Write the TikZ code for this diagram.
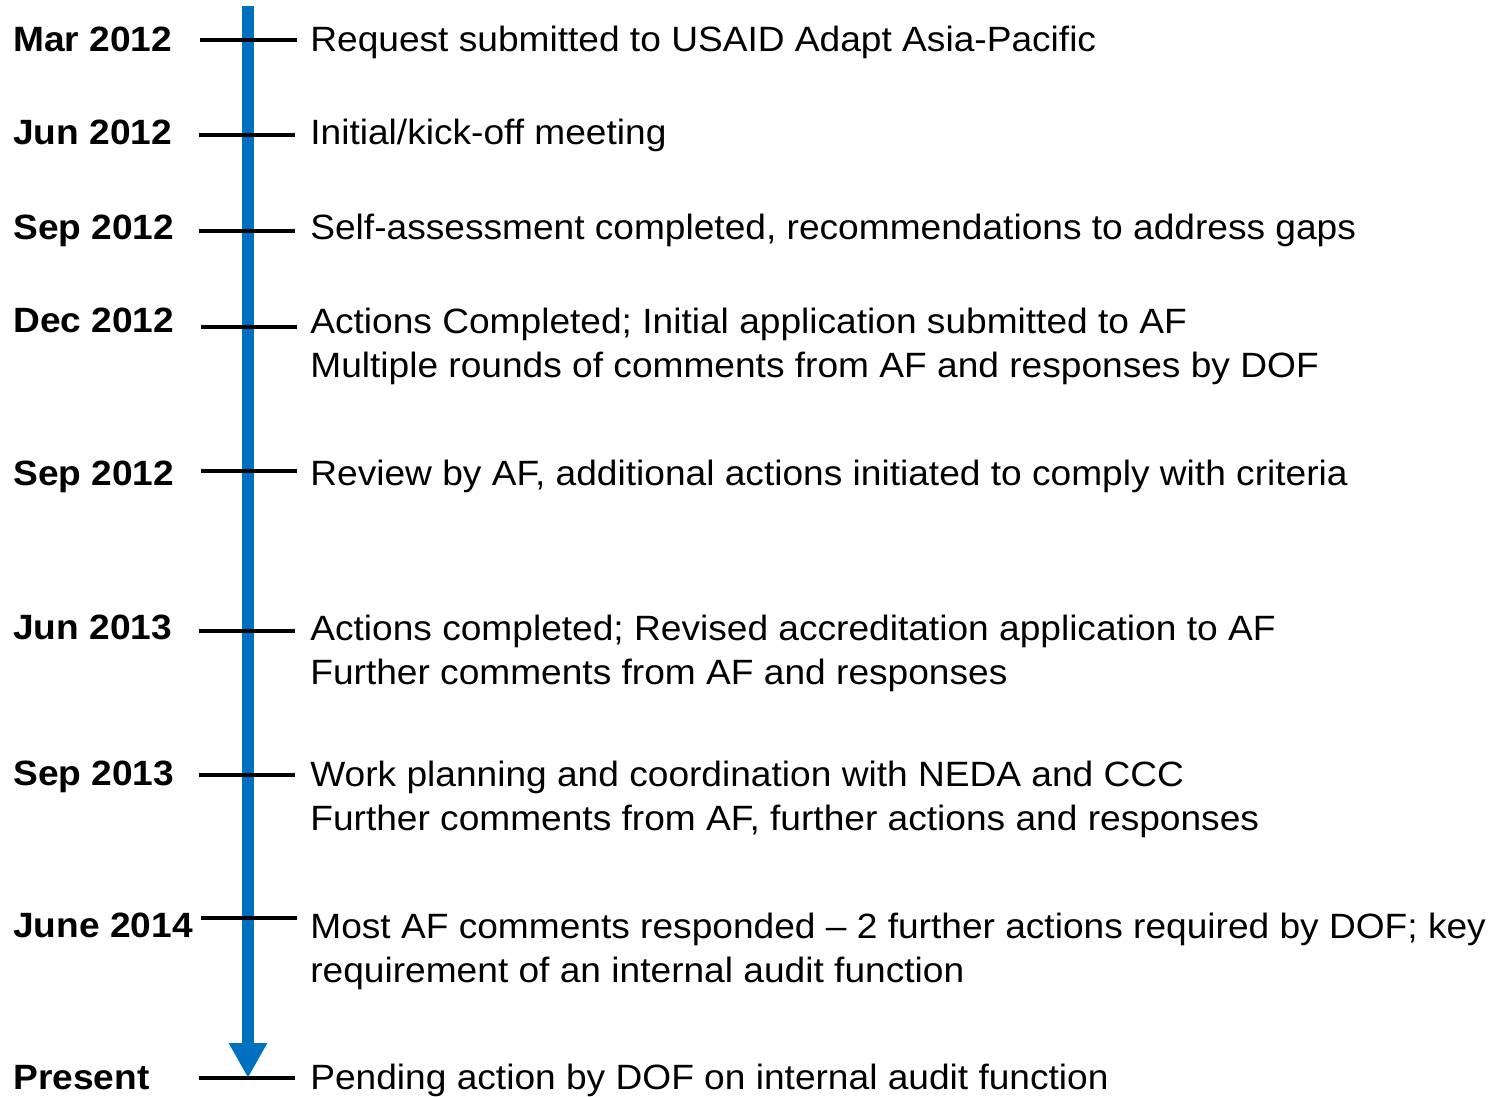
\documentclass[tikz,border=0pt]{standalone}
\usepackage{fontspec}
\setmainfont{Liberation Sans}[FakeStretch=1.056]
\usetikzlibrary{arrows.meta}
\definecolor{zeitblau}{RGB}{0,112,192}
\begin{document}
\begin{tikzpicture}[x=0.02cm, y=-0.02cm]
		\tikzset{datum/.style={anchor=base west, inner sep=0, font=\fontsize{20}{25.6}\selectfont\bfseries},
		ereignis/.style={anchor=base west, inner sep=0, align=left, font=\fontsize{20}{25.6}\selectfont},
		strich/.style={line width=2.3pt, draw=black}}
		\useasboundingbox (0,0) rectangle (1492,1097);

		% timeline
		\coordinate (top) at (248, 6);
		\coordinate (bottom) at (248, 1078);
		\draw[line width=6.8pt, draw=zeitblau, -{Triangle[width=0.72cm, length=0.7cm]}] (top) -- (bottom);

        \node[datum] at (13, 52) (d1) {Mar 2012};
        \node[datum] at (13, 145) (d2) {Jun 2012};
        \node[datum] at (13, 240) (d3) {Sep 2012};
        \node[datum] at (13, 333) (d4) {Dec 2012};
        \node[datum] at (13, 486) (d5) {Sep 2012};
        \node[datum] at (13, 640) (d6) {Jun 2013};
        \node[datum] at (13, 786) (d7) {Sep 2013};
        \node[datum] at (13, 938) (d8) {June 2014};
        \node[datum] at (13, 1090) (d9) {Present};

		% events (base = baseline of last line)
        \node[ereignis] at (310, 52) (e1) {Request submitted to USAID Adapt Asia-Pacific};
        \node[ereignis] at (310, 145) (e2) {Initial/kick-off meeting};
        \node[ereignis] at (310, 240) (e3) {Self-assessment completed, recommendations to address gaps};
        \node[ereignis] at (310, 378) (e4) {Actions Completed; Initial application submitted to AF\\Multiple rounds of comments from AF and responses by DOF};
        \node[ereignis] at (310, 486) (e5) {Review by AF, additional actions initiated to comply with criteria};
        \node[ereignis] at (310, 685) (e6) {Actions completed; Revised accreditation application to AF\\Further comments from AF and responses};
        \node[ereignis] at (310, 831) (e7) {Work planning and coordination with NEDA and CCC\\Further comments from AF, further actions and responses};
        \node[ereignis] at (310, 983) (e8) {Most AF comments responded – 2 further actions required by DOF; key\\requirement of an internal audit function};
        \node[ereignis] at (310, 1090) (e9) {Pending action by DOF on internal audit function};

		% ticks
		\coordinate (l1) at (200, 40);   \coordinate (r1) at (297, 40);
		\coordinate (l2) at (199, 135);  \coordinate (r2) at (295, 135);
		\coordinate (l3) at (199, 231);  \coordinate (r3) at (295, 231);
		\coordinate (l4) at (201, 327);  \coordinate (r4) at (297, 327);
		\coordinate (l5) at (201, 471);  \coordinate (r5) at (297, 471);
		\coordinate (l6) at (199, 631);  \coordinate (r6) at (295, 631);
		\coordinate (l7) at (199, 775);  \coordinate (r7) at (295, 775);
		\coordinate (l8) at (201, 918);  \coordinate (r8) at (297, 918);
		\coordinate (l9) at (199, 1078); \coordinate (r9) at (295, 1078);
			\draw[strich] (l1) -- (r1);
			\draw[strich] (l2) -- (r2);
			\draw[strich] (l3) -- (r3);
			\draw[strich] (l4) -- (r4);
			\draw[strich] (l5) -- (r5);
			\draw[strich] (l6) -- (r6);
			\draw[strich] (l7) -- (r7);
			\draw[strich] (l8) -- (r8);
			\draw[strich] (l9) -- (r9);
\end{tikzpicture}
\end{document}
